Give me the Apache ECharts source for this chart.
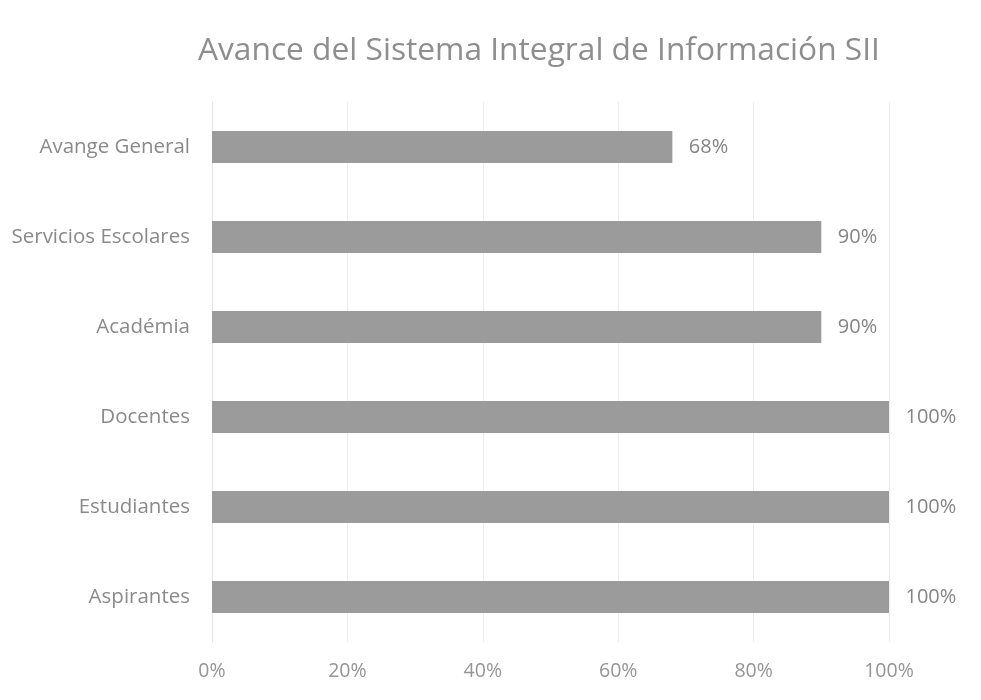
<!DOCTYPE html>
<html>
<head>
<meta charset="utf-8">
<script src="https://cdn.jsdelivr.net/npm/echarts@6/dist/echarts.min.js"></script>
<style>html,body{margin:0;padding:0;background:#fff;}#c{width:981px;height:700px;}</style>
</head>
<body>
<div id="c"></div>
<script>
var categories = ['Aspirantes', 'Estudiantes', 'Docentes', 'Académia', 'Servicios Escolares', 'Avange General'];
var values = [100, 100, 100, 90, 90, 68];
var xTicks = [0, 20, 40, 60, 80, 100];

var chart = echarts.init(document.getElementById('c'));
var font = 'Open Sans';
chart.setOption({
  animation: false,
  backgroundColor: '#ffffff',
  title: {
    text: 'Avance del Sistema Integral de Información SII',
    left: 193,
    top: 30,
    textStyle: { fontFamily: font, fontSize: 31.7, fontWeight: 'normal', color: '#8e8e8e' }
  },
  grid: { left: 212, right: 92, top: 102, bottom: 58, containLabel: false },
  xAxis: {
    type: 'value', min: 0, max: 100, interval: 20,
    axisLine: { show: false }, axisTick: { show: false },
    splitLine: { show: true, lineStyle: { color: '#ececec', width: 1 } },
    axisLabel: { formatter: function (v) { return xTicks.indexOf(v) >= 0 ? v + '%' : ''; }, fontFamily: font, fontSize: 19.5, color: '#959595', margin: 19 }
  },
  yAxis: {
    type: 'category', data: categories,
    axisLine: { show: true, lineStyle: { color: '#e6e6e6' } }, axisTick: { show: false },
    axisLabel: { fontFamily: font, fontSize: 20.5, color: '#8a8a8a', margin: 22 }
  },
  series: [{
    type: 'bar', data: values, barWidth: 32,
    itemStyle: { color: '#9b9b9b' },
    label: { show: true, position: 'right', distance: 16.5, formatter: '{c}%', fontFamily: font, fontSize: 20, color: '#858585' }
  }]
});
</script>
</body>
</html>
